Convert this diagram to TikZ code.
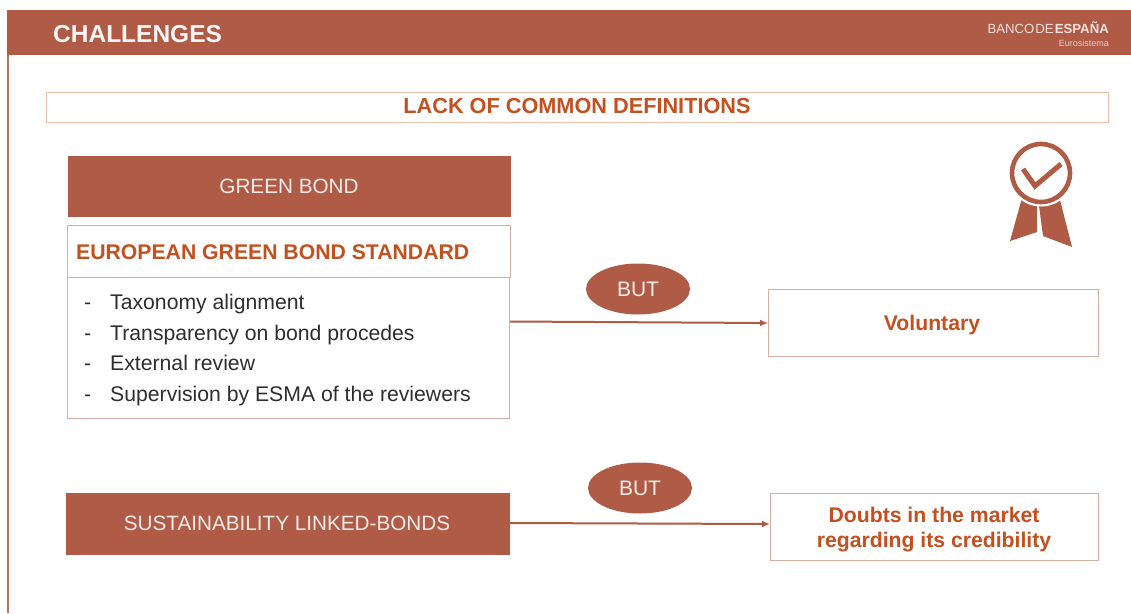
\documentclass[tikz,border=0pt]{standalone}
\usepackage{fontspec}
\setmainfont{Liberation Sans}
\usetikzlibrary{arrows.meta,shapes.geometric}
\definecolor{brick}{HTML}{B05B46}
\definecolor{orangetxt}{HTML}{C4501F}
\definecolor{peach}{HTML}{EDBFA6}
\definecolor{thinline}{HTML}{D9AEA2}
\tikzset{
  x=1pt,y=-1pt,
  filledbox/.style={draw=none,fill=brick,inner sep=0pt},
  filltxt/.style={text=white!88!brick,font=\fontsize{20.7}{24}\selectfont,inner sep=0pt},
  linebox/.style={draw=thinline,line width=1.45pt,fill=white,inner sep=0pt},
  headtxt/.style={text=orangetxt,font=\fontsize{21.2}{24}\selectfont\bfseries},
  butoval/.style={ellipse,fill=brick,draw=none,minimum width=104pt,minimum height=51pt,inner sep=0pt,text=white!88!brick,font=\fontsize{21}{24}\selectfont},
  bodytxt/.style={text=black!82,font=\fontsize{21.2}{24}\selectfont,inner sep=0pt,anchor=base west},
  flow/.style={draw=brick,line width=2pt,-{Latex[length=8pt,width=7pt]}}
}
\begin{document}
\begin{tikzpicture}
\useasboundingbox (0,0) rectangle (1131,613);
\fill[white] (0,0) rectangle (1131,613);
% page frame and header
\fill[brick] (6.5,10) rectangle (1131,55);
\fill[brick!85] (6.5,55) rectangle (8.7,613);
\node[anchor=west,inner sep=0pt,text=white!95!brick,font=\fontsize{24.5}{28}\selectfont\bfseries] (title) at (53,34) {CHALLENGES};
\node[anchor=east,inner sep=0pt,text=white!82!brick,font=\fontsize{13.2}{16}\selectfont] (logo) at (1109,28) {BANCO\hspace{1pt}DE\hspace{1pt}\textbf{ESPAÑA}};
\node[anchor=east,inner sep=0pt,text=white!70!brick,font=\fontsize{9}{11}\selectfont] (euro) at (1109,43) {Eurosistema};
% banner
\node[draw=peach,line width=1.6pt,fill=white,minimum width=1062pt,minimum height=30pt,inner sep=0pt,anchor=north west] (banner) at (45.5,91.5) {};
\node[headtxt,inner sep=0pt,font=\fontsize{21.7}{24}\selectfont\bfseries] (bannertxt) at (577,106) {LACK OF COMMON DEFINITIONS};
% green bond column
\node[filledbox,minimum width=443pt,minimum height=61pt,anchor=north west] (gb) at (68,155.5) {};
\node[filltxt] (gbt) at (289,186.5) {GREEN BOND};
\node[linebox,minimum width=442pt,minimum height=193pt,anchor=north west] (list) at (67,224.5) {};
\node[linebox,minimum width=443pt,minimum height=52pt,anchor=north west] (std) at (67,224.5) {};
\node[headtxt,anchor=west,inner sep=0pt] (stdt) at (76,252) {EUROPEAN GREEN BOND STANDARD};
\foreach \n/\yy/\tx in {a/309/Taxonomy alignment,b/340/Transparency on bond procedes,c/370/External review,d/401/Supervision by ESMA of the reviewers}{
  \node[bodytxt] (dash\n) at (84,\yy) {-};
  \node[bodytxt] (item\n) at (110,\yy) {\tx};
}
% sustainability
\node[filledbox,minimum width=444pt,minimum height=62pt,anchor=north west] (sl) at (66,492.5) {};
\node[filltxt] (slt) at (287,523.5) {SUSTAINABILITY LINKED-BONDS};
% right boxes
\node[linebox,minimum width=330pt,minimum height=67pt,anchor=north west] (vol) at (767.5,288.5) {};
\node[headtxt,inner sep=0pt] (volt) at (932,325) {Voluntary};
\node[linebox,minimum width=328pt,minimum height=67pt,anchor=north west] (dbt) at (769.5,492.5) {};
\node[headtxt,align=center,font=\fontsize{21.2}{25}\selectfont\bfseries] (dbtt) at (934,529.5) {Doubts in the market\\regarding its credibility};
% BUT ovals
\node[butoval] (but1) at (638,289) {BUT};
\node[butoval] (but2) at (640,488) {BUT};
% connectors
\coordinate (s1) at (510,321.5);
\coordinate (e1) at (768,323);
\coordinate (s2) at (510,523);
\coordinate (e2) at (770,524);
\draw[flow] (s1) -- (e1);
\draw[flow] (s2) -- (e2);
% rosette icon
\fill[brick] (1022,198) -- (1010,241) -- (1037,232) -- (1037,206) -- cycle;
\fill[brick] (1039,206) -- (1043,236) -- (1072,247) -- (1060,200) -- cycle;
\draw[white,line width=2pt,fill=white] (1041,173) circle (32.5);
\draw[brick,line width=4.6pt,fill=white] (1041,173) circle (29);
\draw[brick,line width=5pt,line join=miter] (1023,169) -- (1035,186) -- (1061,164);
\end{tikzpicture}
\end{document}
